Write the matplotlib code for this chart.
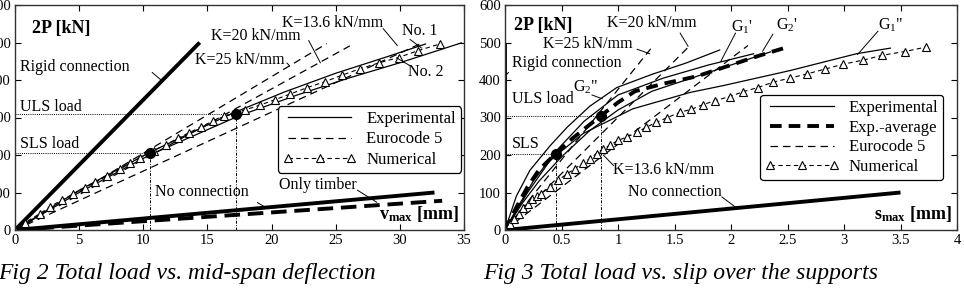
import matplotlib
matplotlib.use("Agg")
import matplotlib.pyplot as plt
from matplotlib.ticker import FuncFormatter

plt.rcParams['font.family'] = ['Liberation Serif', 'DejaVu Serif']
plt.rcParams['mathtext.fontset'] = 'custom'
plt.rcParams['mathtext.rm'] = 'Liberation Serif'
plt.rcParams['mathtext.it'] = 'Liberation Serif:italic'
plt.rcParams['mathtext.bf'] = 'Liberation Serif:bold'

# ---------------- Fig 2 data (load vs mid-span deflection) ----------------
rigid2_x = [0, 14.4]
rigid2_y = [0, 500]
noconn2_x = [0, 32.7]
noconn2_y = [0, 100]
timber2_x = [0, 33.3]
timber2_y = [0, 78]
exp1_x = [0, 5, 10.5, 17, 21, 25, 29, 32]
exp1_y = [0, 106, 207, 312, 368, 418, 462, 496]
exp2_x = [0, 5, 10.5, 17.5, 22, 26, 30, 34.8]
exp2_y = [0, 100, 200, 305, 360, 405, 446, 499]
num2_x = [0, 0.8, 1.95, 2.73, 3.64, 4.55, 5.46, 6.24, 7.15, 8.18, 8.96, 9.74, 10.8, 11.8,
          12.7, 13.6, 14.5, 15.4, 16.3, 17.9, 19.1, 20.3, 21.4, 22.8, 24.2, 25.5, 26.9,
          28.4, 29.9, 31.4, 33.1]
num2_y = [0, 20, 44, 62, 80, 96, 113, 128, 143, 162, 178, 193, 212, 228, 245, 260, 275,
          290, 303, 320, 333, 348, 362, 380, 396, 413, 430, 446, 460, 478, 496]
ec2_k25_x = [0, 24.3]
ec2_k25_y = [0, 497]
ec2_k20_x = [0, 26.1]
ec2_k20_y = [0, 491]
ec2_k136_x = [0, 31.8]
ec2_k136_y = [0, 500]
sls2 = (10.5, 205)
uls2 = (17.2, 310)

# ---------------- Fig 3 data (load vs slip) ----------------
rigid3_x = [0, 0]
rigid3_y = [0, 496]
noconn3_x = [0, 3.5]
noconn3_y = [0, 100]
g2pp_x = [0, 0.1, 0.22, 0.4, 0.55, 0.75, 0.99, 1.3, 1.6, 1.9]
g2pp_y = [0, 90, 159, 225, 274, 330, 380, 415, 445, 480]
g1p_x = [0, 0.1, 0.25, 0.45, 0.7, 1.0, 1.4, 1.8, 2.2]
g1p_y = [0, 55, 130, 210, 290, 360, 405, 440, 470]
g2p_x = [0, 0.15, 0.3, 0.5, 0.75, 1.0, 1.3, 1.7, 2.1, 2.35]
g2p_y = [0, 70, 130, 195, 265, 320, 370, 410, 450, 475]
g1pp_x = [0, 0.1, 0.2, 0.4, 0.69, 1.13, 1.64, 1.93, 2.52, 3.11, 3.41]
g1pp_y = [0, 50, 100, 186, 257, 323, 367, 385, 425, 470, 485]
avg3_x = [0, 0.1, 0.2, 0.3, 0.45, 0.6, 0.85, 1.0, 1.15, 1.4, 1.7, 2.0, 2.25, 2.48]
avg3_y = [0, 60, 115, 160, 204, 245, 305, 340, 370, 390, 410, 440, 465, 486]
num3_x = [0, 0.04, 0.08, 0.12, 0.16, 0.2, 0.24, 0.28, 0.32, 0.40, 0.47, 0.55, 0.62, 0.69,
          0.75, 0.81, 0.87, 0.93, 1.00, 1.08, 1.17, 1.25, 1.34, 1.43, 1.55, 1.65, 1.75,
          1.86, 1.99, 2.11, 2.24, 2.37, 2.52, 2.67, 2.83, 2.99, 3.17, 3.34, 3.54, 3.73]
num3_y = [0, 15, 30, 44, 58, 70, 82, 90, 97, 115, 133, 150, 164, 179, 190, 204, 217, 226,
          239, 248, 261, 274, 287, 299, 314, 322, 334, 345, 356, 369, 380, 394, 405, 416,
          429, 442, 453, 466, 476, 488]
ec3_k25_x = [0, 1.31]
ec3_k25_y = [0, 491]
ec3_k20_x = [0, 1.63]
ec3_k20_y = [0, 490]
ec3_k136_x = [0, 2.15]
ec3_k136_y = [0, 492]
sls3 = (0.45, 204)
uls3 = (0.85, 305)

W, H = 964, 290
fig = plt.figure(figsize=(W / 100, H / 100), dpi=100)

def px_axes(x0, y0, x1, y1):
    return fig.add_axes([x0 / W, 1 - y1 / H, (x1 - x0) / W, (y1 - y0) / H])

ax1 = px_axes(15, 5, 464, 230)
ax2 = px_axes(505, 5, 957, 230)

TICKFS = 10.5
ANNFS = 11.5
for ax in (ax1, ax2):
    ax.set_ylim(0, 600)
    ax.set_yticks(range(0, 601, 100))
    ax.tick_params(direction='in', length=4, width=0.8, top=True, right=True,
                   labelsize=TICKFS, pad=3)
    for s in ax.spines.values():
        s.set_linewidth(1.0)
        s.set_color('#333333')

ax1.set_xlim(0, 35)
ax1.set_xticks(range(0, 36, 5))
ax2.set_xlim(0, 4)
ax2.set_xticks([0, 0.5, 1, 1.5, 2, 2.5, 3, 3.5, 4])
ax2.xaxis.set_major_formatter(FuncFormatter(lambda v, p: '%g' % v))

thin = 0.9
dash_style = (0, (6, 4))
num_kw = dict(color='black', lw=0.8, ls=(0, (4, 3)), marker='^', ms=5.5,
              mfc='white', mec='black', mew=0.8)
lead = dict(color='black', lw=0.7)

# ---- Fig 2 ----
ax1.plot(rigid2_x, rigid2_y, color='black', lw=2.8, solid_capstyle='butt')
ax1.plot(noconn2_x, noconn2_y, color='black', lw=2.8, solid_capstyle='butt')
ax1.plot(timber2_x, timber2_y, color='black', lw=2.8, ls=(0, (4, 2)))
for xs, ys in ((ec2_k25_x, ec2_k25_y), (ec2_k20_x, ec2_k20_y), (ec2_k136_x, ec2_k136_y)):
    ax1.plot(xs, ys, color='black', lw=thin, ls=dash_style)
l_exp, = ax1.plot(exp1_x, exp1_y, color='black', lw=thin, label='Experimental')
ax1.plot(exp2_x, exp2_y, color='black', lw=thin)
l_num, = ax1.plot(num2_x, num2_y, label='Numerical', **num_kw)
l_ec, = ax1.plot([], [], color='black', lw=thin, ls=dash_style, label='Eurocode 5')
for (px, py) in (sls2, uls2):
    ax1.plot([0, px], [py, py], color='black', lw=0.7, ls=(0, (1, 1.2)))
    ax1.plot([px, px], [0, py], color='black', lw=0.7, ls=(0, (3, 1.5, 1, 1.5)))
    ax1.plot([px], [py], 'o', color='black', ms=7)

ax1.text(1.3, 536, '2P [kN]', fontsize=13, fontweight='bold', va='center')
ax1.text(0.4, 435, 'Rigid connection', fontsize=ANNFS, va='center')
ax1.plot([10.7, 11.45], [420, 398], **lead)
ax1.text(0.4, 328, 'ULS load', fontsize=ANNFS, va='center')
ax1.text(0.4, 230, 'SLS load', fontsize=ANNFS, va='center')
ax1.text(10.9, 100, 'No connection', fontsize=ANNFS, va='center')
ax1.plot([18.9, 19.5], [73, 61], **lead)
ax1.text(20.6, 120, 'Only timber', fontsize=ANNFS, va='center')
ax1.plot([26.7, 28.2], [106, 74], **lead)
ax1.text(34.6, 42, r'$\mathbf{v_{max}}$ [mm]', fontsize=13, fontweight='bold',
         ha='right', va='center')
ax1.text(20.8, 553, 'K=13.6 kN/mm', fontsize=ANNFS, va='center')
ax1.plot([28.7, 29.8], [537, 492], **lead)
ax1.text(15.3, 518, 'K=20 kN/mm', fontsize=ANNFS, va='center')
ax1.plot([22.9, 23.8], [505, 446], **lead)
ax1.text(14.0, 452, 'K=25 kN/mm', fontsize=ANNFS, va='center')
ax1.plot([21.2, 21.4], [445, 438], **lead)
ax1.text(30.2, 530, 'No. 1', fontsize=ANNFS, va='center')
ax1.plot([30.8, 31.7], [508, 485], **lead)
ax1.text(30.6, 420, 'No. 2', fontsize=ANNFS, va='center')
ax1.plot([30.8, 29.8], [438, 458], **lead)

leg1 = ax1.legend(handles=[l_exp, l_ec, l_num], loc='upper right',
                  bbox_to_anchor=(0.993, 0.55), fontsize=12, handlelength=4.4,
                  handletextpad=0.6, labelspacing=0.25, borderpad=0.3,
                  borderaxespad=0, numpoints=3, fancybox=True, framealpha=1)
leg1.get_frame().set_edgecolor('black')
leg1.get_frame().set_linewidth(0.9)

# ---- Fig 3 ----
ax2.plot(rigid3_x, rigid3_y, color='black', lw=2.8, solid_capstyle='butt')
ax2.plot(noconn3_x, noconn3_y, color='black', lw=2.8, solid_capstyle='butt')
for xs, ys in ((ec3_k25_x, ec3_k25_y), (ec3_k20_x, ec3_k20_y), (ec3_k136_x, ec3_k136_y)):
    ax2.plot(xs, ys, color='black', lw=thin, ls=dash_style)
l3_exp, = ax2.plot(g2pp_x, g2pp_y, color='black', lw=thin, label='Experimental')
for xs, ys in ((g1p_x, g1p_y), (g2p_x, g2p_y), (g1pp_x, g1pp_y)):
    ax2.plot(xs, ys, color='black', lw=thin)
l3_avg, = ax2.plot(avg3_x, avg3_y, color='black', lw=2.8, ls=(0, (3, 1.8)),
                   label='Exp.-average')
l3_num, = ax2.plot(num3_x, num3_y, label='Numerical', **num_kw)
l3_ec, = ax2.plot([], [], color='black', lw=thin, ls=dash_style, label='Eurocode 5')
for (px, py) in (sls3, uls3):
    ax2.plot([0, px], [py, py], color='black', lw=0.7, ls=(0, (1, 1.2)))
    ax2.plot([px, px], [0, py], color='black', lw=0.7, ls=(0, (3, 1.5, 1, 1.5)))
    ax2.plot([px], [py], 'o', color='black', ms=7)

ax2.text(0.08, 545, '2P [kN]', fontsize=13, fontweight='bold', va='center')
ax2.text(0.06, 445, 'Rigid connection', fontsize=ANNFS, va='center')
ax2.plot([0.03, 0.0], [420, 410], **lead)
ax2.text(0.06, 350, 'ULS load', fontsize=ANNFS, va='center')
ax2.text(0.06, 228, 'SLS', fontsize=ANNFS, va='center')
ax2.text(1.09, 100, 'No connection', fontsize=ANNFS, va='center')
ax2.plot([1.92, 2.04], [88, 61], **lead)
ax2.text(3.95, 42, r'$\mathbf{s_{max}}$ [mm]', fontsize=13, fontweight='bold',
         ha='right', va='center')
ax2.text(0.96, 160, 'K=13.6 kN/mm', fontsize=ANNFS, va='center')
ax2.plot([0.96, 0.87], [172, 200], **lead)
ax2.text(0.9, 552, 'K=20 kN/mm', fontsize=ANNFS, va='center')
ax2.plot([1.55, 1.62], [525, 490], **lead)
ax2.text(0.34, 495, 'K=25 kN/mm', fontsize=ANNFS, va='center')
ax2.plot([1.17, 1.28], [482, 470], **lead)
ax2.text(0.6, 380, 'G$_\\mathrm{2}$"', fontsize=ANNFS, va='center')
ax2.plot([0.77, 0.86], [360, 350], **lead)
ax2.text(2.0, 540, "G$_\\mathrm{1}$'", fontsize=ANNFS, va='center')
ax2.plot([2.04, 1.91], [525, 450], **lead)
ax2.text(2.4, 545, "G$_\\mathrm{2}$'", fontsize=ANNFS, va='center')
ax2.plot([2.37, 2.28], [522, 477], **lead)
ax2.text(3.3, 545, 'G$_\\mathrm{1}$"', fontsize=ANNFS, va='center')
ax2.plot([3.30, 3.12], [530, 468], **lead)

leg2 = ax2.legend(handles=[l3_exp, l3_avg, l3_ec, l3_num], loc='upper right',
                  bbox_to_anchor=(0.97, 0.60), fontsize=12, handlelength=4.4,
                  handletextpad=0.6, labelspacing=0.22, borderpad=0.3,
                  borderaxespad=0, numpoints=3, fancybox=True, framealpha=1)
leg2.get_frame().set_edgecolor('black')
leg2.get_frame().set_linewidth(0.9)

fig.text(-2 / W, 1 - 273 / H, 'Fig 2 Total load vs. mid-span deflection', fontsize=17,
         style='italic', va='center', ha='left')
fig.text(483 / W, 1 - 273 / H, 'Fig 3 Total load vs. slip over the supports', fontsize=17,
         style='italic', va='center', ha='left')

fig.savefig('out.png', dpi=100)
